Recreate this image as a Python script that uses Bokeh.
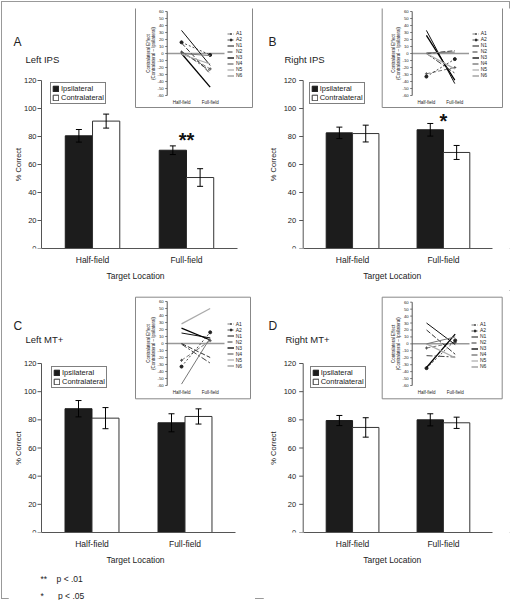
import math
from bokeh.plotting import figure
from bokeh.models import (ColumnDataSource, Range1d, Whisker, TeeHead, Legend, LegendItem,
                          Label, GridBox, FixedTicker, Title)
from bokeh.core.properties import value
from bokeh.embed import file_html
from bokeh.resources import INLINE

# ---------------- data ----------------
locations = ["Half-field", "Full-field"]
y_ticks = [0, 20, 40, 60, 80, 100, 120]
inset_ticks = [-60, -50, -40, -30, -20, -10, 0, 10, 20, 30, 40, 50, 60]
subjects = ["A1", "A2", "N1", "N2", "N3", "N4", "N5", "N6"]

# A: Left IPS
left_ips_ipsi = [80.5, 70.2]
left_ips_ipsi_err = [4.5, 3.1]
left_ips_contra = [91.0, 50.7]
left_ips_contra_err = [5.0, 6.3]
left_ips_sig = ["", "**"]
left_ips_sig_y = [None, 77.5]
left_ips_half = [2, 16, 33, 15, 0, 3, -1, 0]
left_ips_full = [-22, -2, -17, -29, -48, -25, -15, -3]

# B: Right IPS
right_ips_ipsi = [82.6, 84.8]
right_ips_ipsi_err = [4.1, 4.5]
right_ips_contra = [82.1, 68.6]
right_ips_contra_err = [6.0, 5.0]
right_ips_sig = ["", "*"]
right_ips_sig_y = [None, 91.0]
right_ips_half = [-29, -33, 33, 0, 26, 0, 0, 1]
right_ips_full = [-20, -8, -43, 4, -38, -28, -22, 2]

# C: Left MT+
left_mt_ipsi = [87.9, 77.9]
left_mt_ipsi_err = [5.8, 6.4]
left_mt_contra = [81.2, 82.4]
left_mt_contra_err = [7.5, 5.4]
left_mt_sig = ["", ""]
left_mt_sig_y = [None, None]
left_mt_half = [-24, -33, 15, 0, 22, -1, 28, -58]
left_mt_full = [4, 16, 8, -20, 5, -28, 50, 8]

# D: Right MT+
right_mt_ipsi = [79.5, 80.0]
right_mt_ipsi_err = [3.6, 4.3]
right_mt_contra = [74.6, 77.9]
right_mt_contra_err = [6.9, 4.0]
right_mt_sig = ["", ""]
right_mt_sig_y = [None, None]
right_mt_half = [-6, -35, 30, 20, -34, -17, 0, 0]
right_mt_full = [2, 5, -1, -15, 14, -19, -20, 10]

footnotes = ["**\u00a0\u00a0\u00a0\u00a0p < .01", "*\u00a0\u00a0\u00a0\u00a0\u00a0\u00a0p < .05"]

# ---------------- styling ----------------
FONT = "Liberation Sans"
TXT = "#222222"
AX = "#555555"
PAD = 0.043
OFF = 0.145
BW = 0.29
NB = "\u00a0"

SUBJECT_STYLE = {
    "A1": dict(color="#555555", dash="4 2", width=0.8, marker="cross"),
    "A2": dict(color="#222222", dash="2 2", width=0.8, marker="circle"),
    "N1": dict(color="#111111", dash="solid", width=1.0, marker=None),
    "N2": dict(color="#333333", dash="5 2", width=1.0, marker=None),
    "N3": dict(color="#000000", dash="solid", width=1.3, marker=None),
    "N4": dict(color="#444444", dash="6 2 2 2", width=1.0, marker=None),
    "N5": dict(color="#aaaaaa", dash="solid", width=1.2, marker=None),
    "N6": dict(color="#777777", dash="solid", width=1.0, marker=None),
}

# page-pixel layout of each panel (frame, main axis, inset)
LAYOUT = {
    "A": dict(w=247, h=282, fl=8, fr=255, ft=8, fb=248, al=41, ar=237, at=80, bb=42,
              ylab=-23, tlab=-5, letter=(13, 41), name=(25, 59), leg=(53, 80), xpad=3,
              ix=(166.7, 224), iy=(11, 95), box=(135, 252, 6, 107), ixlab=101.7,
              ileg=(232, 52)),
    "B": dict(w=248, h=282, fl=263, fr=511, ft=8, fb=248, al=302.7, ar=492.3, at=80, bb=42,
              ylab=-29.4, tlab=-7, letter=(268, 41), name=(284, 59), leg=(311.7, 80), xpad=4,
              ix=(411.7, 468.5), iy=(11, 95), box=(381.7, 502, 6, 107), ixlab=101.7,
              ileg=(476.7, 52)),
    "C": dict(w=247, h=310, fl=8, fr=255, ft=290, fb=532, al=41, ar=235, at=363, bb=68,
              ylab=-23, tlab=-5, letter=(13, 325), name=(25, 339), leg=(54, 364), xpad=3,
              ix=(166.7, 224), iy=(301, 385), box=(135, 250, 296.7, 398.3), ixlab=391.7,
              ileg=(231.7, 342.5)),
    "D": dict(w=248, h=310, fl=263, fr=511, ft=290, fb=532, al=302.7, ar=492.3, at=363, bb=68,
              ylab=-29.4, tlab=-7, letter=(268, 325), name=(285, 339), leg=(312.7, 364), xpad=4,
              ix=(411.7, 469), iy=(301.7, 385), box=(381.7, 501.7, 296.7, 398.3), ixlab=391.7,
              ileg=(476, 343)),
}


def make_panel(key, region, ipsi, ipsi_err, contra, contra_err, sig, sig_y, half, full,
               footnote=False):
    L = LAYOUT[key]
    ncat = len(locations)
    unit = (L["ar"] - L["al"]) / (ncat + 2 * PAD)      # px per category
    pxu = (L["fb"] - L["at"]) / float(max(y_ticks))     # px per percent

    def fx(px):
        return -PAD + (px - L["al"]) / unit

    def fy(py):
        return (L["fb"] - py) / pxu

    # inset scales
    ux = (L["ix"][1] - L["ix"][0]) / float(ncat)
    uy = (L["iy"][1] - L["iy"][0]) / float(max(inset_ticks) - min(inset_ticks))

    def ify(py):
        return min(inset_ticks) - (py - L["iy"][1]) / uy

    p = figure(x_range=Range1d(fx(L["fl"]), fx(L["fr"])), y_range=Range1d(0, fy(L["ft"])),
               width=L["w"], height=L["h"], y_axis_type=None,
               output_backend="svg", toolbar_location=None,
               min_border_left=0, min_border_right=0, min_border_top=0,
               min_border_bottom=L["bb"])
    p.extra_x_ranges = {"ix": Range1d((L["fl"] - L["ix"][0]) / ux, (L["fr"] - L["ix"][0]) / ux)}
    p.extra_y_ranges = {"iy": Range1d(ify(L["fb"]), ify(L["ft"]))}
    p.outline_line_color = None
    p.grid.visible = False
    p.background_fill_color = "white"
    p.border_fill_color = "white"

    cat_x = [i + 0.5 for i in range(ncat)]
    src = ColumnDataSource(dict(
        ipsi_x=[c - OFF for c in cat_x], contra_x=[c + OFF for c in cat_x],
        ipsi=ipsi, contra=contra,
        ipsi_lo=[v - e for v, e in zip(ipsi, ipsi_err)],
        ipsi_hi=[v + e for v, e in zip(ipsi, ipsi_err)],
        contra_lo=[v - e for v, e in zip(contra, contra_err)],
        contra_hi=[v + e for v, e in zip(contra, contra_err)],
    ))
    r_ipsi = p.vbar(x="ipsi_x", top="ipsi", width=BW, source=src,
                    fill_color="#1c1c1c", line_color="#1c1c1c")
    r_contra = p.vbar(x="contra_x", top="contra", width=BW, source=src,
                      fill_color="white", line_color="#333333")
    for col in ("ipsi", "contra"):
        p.add_layout(Whisker(source=src, base=f"{col}_x", upper=f"{col}_hi", lower=f"{col}_lo",
                             line_color="black", line_width=1,
                             upper_head=TeeHead(size=6, line_color="black", line_width=1),
                             lower_head=TeeHead(size=6, line_color="black", line_width=1),
                             level="annotation"))

    for i, (s, sy) in enumerate(zip(sig, sig_y)):
        if s:
            p.add_layout(Label(x=cat_x[i], y=sy, text=s, text_align="center",
                               text_baseline="middle", text_font=FONT, text_font_size="20px",
                               text_font_style="bold", text_color="#111111"))

    # ---- main y axis (percent scale) ----
    x_ax = -PAD
    nt = len(y_ticks)
    p.segment(x0=[x_ax], y0=[min(y_ticks)], x1=[x_ax], y1=[max(y_ticks)], line_color=AX, line_width=1)
    p.segment(x0=[x_ax] * nt, y0=y_ticks, x1=[x_ax - 4 / unit] * nt, y1=y_ticks,
              line_color=AX, line_width=1)
    p.text(x=[x_ax] * nt, y=y_ticks, text=[str(t) for t in y_ticks], x_offset=L["tlab"],
           text_align="right", text_baseline="middle", text_font=value(FONT),
           text_font_size=value("7.5px"), text_color=TXT)
    p.text(x=[x_ax], y=[max(y_ticks) / 2], text=["% Correct"], angle=math.pi / 2,
           x_offset=L["ylab"], text_align="center", text_baseline="middle",
           text_font=value(FONT), text_font_size=value("7.5px"), text_color=TXT)

    # ---- main x axis ----
    xa = p.xaxis[0]
    xa.ticker = FixedTicker(ticks=cat_x)
    xa.major_label_overrides = {c: loc for c, loc in zip(cat_x, locations)}
    xa.bounds = (-PAD, ncat + PAD)
    xa.axis_line_color = AX
    xa.major_tick_line_color = None
    xa.minor_tick_line_color = None
    xa.major_tick_out = 0
    xa.major_tick_in = 0
    xa.major_label_standoff = 6
    xa.major_label_text_font = FONT
    xa.major_label_text_font_size = "8.5px"
    xa.major_label_text_color = TXT
    xa.axis_label = NB * L["xpad"] + "Target Location"
    xa.axis_label_text_font = FONT
    xa.axis_label_text_font_size = "8.5px"
    xa.axis_label_text_font_style = "normal"
    xa.axis_label_text_color = TXT
    xa.axis_label_standoff = 3

    # ---- main legend ----
    main_leg = Legend(items=[LegendItem(label="Ipsilateral", renderers=[r_ipsi]),
                             LegendItem(label="Contralateral", renderers=[r_contra])],
                      location=(L["leg"][0] - L["fl"] - 3, L["fb"] - (L["leg"][1] + 24)),
                      border_line_color="black", border_line_width=1,
                      background_fill_color="white", background_fill_alpha=1,
                      padding=1, spacing=0, margin=0, glyph_width=7, glyph_height=7,
                      label_height=9, label_standoff=2, label_text_font=FONT,
                      label_text_font_size="7.5px", label_text_color=TXT)
    p.add_layout(main_leg)

    # ---- panel letter and region ----
    p.add_layout(Label(x=fx(L["letter"][0]), y=fy(L["letter"][1]), text=key, text_font=FONT,
                       text_font_size="12px", text_color=TXT, text_align="left",
                       text_baseline="middle"))
    p.add_layout(Label(x=fx(L["name"][0]), y=fy(L["name"][1]), text=region, text_font=FONT,
                       text_font_size="9.5px", text_color=TXT, text_align="left",
                       text_baseline="middle"))

    # ---- inset: contralateral effect per subject ----
    bx0, bx1, by0, by1 = L["box"]
    p.quad(left=[fx(bx0)], right=[fx(bx1)], top=[fy(by0)], bottom=[fy(by1)],
           fill_color="white", line_color="#888888", line_width=1)
    lo_t, hi_t = min(inset_ticks), max(inset_ticks)
    kw = dict(x_range_name="ix", y_range_name="iy")
    p.segment(x0=[0], y0=[0], x1=[ncat], y1=[0], line_color="#999999", line_width=1.5, **kw)
    p.segment(x0=[0], y0=[lo_t], x1=[0], y1=[hi_t], line_color=AX, line_width=1, **kw)
    ni = len(inset_ticks)
    p.segment(x0=[0] * ni, y0=inset_ticks, x1=[-2 / ux] * ni, y1=inset_ticks,
              line_color=AX, line_width=0.8, **kw)
    p.text(x=[0] * ni, y=inset_ticks, text=[str(t) for t in inset_ticks], x_offset=-3.5,
           text_align="right", text_baseline="middle", text_font=value(FONT),
           text_font_size=value("4.3px"), text_color=TXT, **kw)
    p.text(x=[0, 0], y=[0, 0], text=["Contralateral Effect", "(Contralateral \u2013 Ipsilateral)"],
           x_offset=[-18.7, -14.2], angle=math.pi / 2, text_align="center",
           text_baseline="middle", text_font=value(FONT), text_font_size=value("4.5px"),
           text_color=TXT, **kw)
    p.text(x=cat_x, y=[ify(L["ixlab"])] * ncat, text=locations, text_align="center",
           text_baseline="middle", text_font=value(FONT), text_font_size=value("4.5px"),
           text_color=TXT, **kw)
    items = []
    for s, a, b in zip(subjects, half, full):
        st = SUBJECT_STYLE[s]
        rs = [p.line(x=cat_x, y=[a, b], line_color=st["color"], line_dash=st["dash"],
                     line_width=st["width"], **kw)]
        if st["marker"]:
            rs.append(p.scatter(x=cat_x, y=[a, b], marker=st["marker"], size=3,
                                line_color=st["color"], fill_color=st["color"], **kw))
        items.append(LegendItem(label=s, renderers=rs))
    inset_leg = Legend(items=items,
                       location=(L["ileg"][0] - 2 - L["fl"] - 3, L["fb"] - (L["ileg"][1] + 26)),
                       padding=2, margin=0, spacing=0, glyph_width=7, glyph_height=5,
                       label_height=5, label_standoff=2, label_text_font=FONT,
                       label_text_font_size="5px", label_text_color=TXT,
                       border_line_color=None, background_fill_alpha=0)
    p.add_layout(inset_leg)

    if footnote:
        for i, ft in enumerate(footnotes):
            p.add_layout(Title(text=ft, align="left", offset=L["al"] - L["fl"] - 1,
                               standoff=9 if i == 0 else 0, text_font=FONT,
                               text_font_size="8.5px", text_font_style="normal",
                               text_color=TXT), "below")
    return p


pA = make_panel("A", "Left IPS", left_ips_ipsi, left_ips_ipsi_err, left_ips_contra,
                left_ips_contra_err, left_ips_sig, left_ips_sig_y, left_ips_half, left_ips_full)
pB = make_panel("B", "Right IPS", right_ips_ipsi, right_ips_ipsi_err, right_ips_contra,
                right_ips_contra_err, right_ips_sig, right_ips_sig_y, right_ips_half, right_ips_full)
pC = make_panel("C", "Left MT+", left_mt_ipsi, left_mt_ipsi_err, left_mt_contra,
                left_mt_contra_err, left_mt_sig, left_mt_sig_y, left_mt_half, left_mt_full,
                footnote=True)
pD = make_panel("D", "Right MT+", right_mt_ipsi, right_mt_ipsi_err, right_mt_contra,
                right_mt_contra_err, right_mt_sig, right_mt_sig_y, right_mt_half, right_mt_full)

root = GridBox(children=[(pA, 1, 1), (pB, 1, 3), (pC, 2, 1), (pD, 2, 3)],
               rows=["8px", "282px", "310px"], cols=["8px", "247px", "8px", "248px"],
               spacing=0, width=511, height=600,
               styles={"outline": "1px solid #999999", "outline-offset": "-2px"})

open("out.html", "w").write(file_html(root, INLINE))
